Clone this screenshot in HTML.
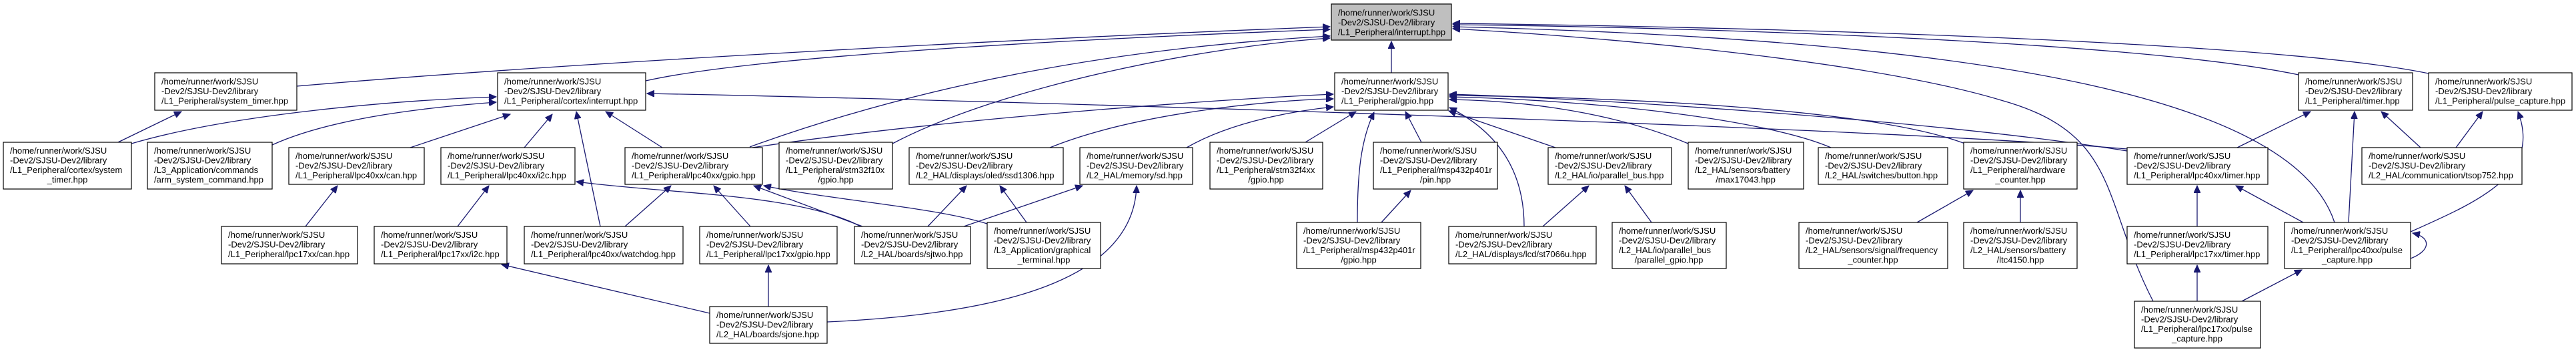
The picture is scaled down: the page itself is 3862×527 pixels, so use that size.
<!DOCTYPE html>
<html><head><meta charset="utf-8"><style>
html,body{margin:0;padding:0;background:#fff;}
svg{display:block;}
text{font-family:"Liberation Sans",Arial,sans-serif;font-size:13px;fill:#000;}
.b{fill:#fff;stroke:#000;stroke-width:1.2;}
.e{fill:none;stroke:#191970;stroke-width:1.3;marker-end:url(#a);}
</style></head><body>
<svg width="3862" height="527" viewBox="0 0 3862 527" xmlns="http://www.w3.org/2000/svg">
<defs><marker id="a" markerUnits="userSpaceOnUse" markerWidth="12" markerHeight="10" refX="11" refY="5" orient="auto"><path d="M0,0 L11,5 L0,10 z" fill="#191970" stroke="#191970"/></marker></defs>

<!-- edges -->
<path class="e" d="M445,129 C900,90 1600,55 1994,40"/>
<path class="e" d="M968,121 C1150,80 1700,55 1994,44"/>
<path class="e" d="M1124,220 C1400,120 1700,70 1994,54"/>
<path class="e" d="M1338,215 C1500,130 1800,70 1994,57"/>
<path class="e" d="M2086,109 L2086,62"/>
<path class="e" d="M3446,112 C3200,60 2500,40 2178,37"/>
<path class="e" d="M3641,110 C3400,60 2600,40 2178,35"/>
<path class="e" d="M3500,333 C3440,150 3000,60 2178,40"/>
<path class="e" d="M3228,451 C3150,300 3180,200 3000,150 C2800,90 2400,55 2178,43"/>

<path class="e" d="M177,213 L272,167"/>
<path class="e" d="M197,215 C350,170 600,150 744,145"/>
<path class="e" d="M408,217 C500,175 650,160 744,153"/>
<path class="e" d="M615,221 L765,171"/>
<path class="e" d="M786,221 L828,171"/>
<path class="e" d="M900,339 L864,167"/>
<path class="e" d="M993,221 L908,167"/>
<path class="e" d="M3189,223 C2800,190 1500,150 970,140"/>

<path class="e" d="M458,339 L506,278"/>
<path class="e" d="M686,339 L733,278"/>
<path class="e" d="M1290,339 C1200,290 1000,290 864,272"/>
<path class="e" d="M937,339 L1006,278"/>
<path class="e" d="M1125,339 L1070,278"/>
<path class="e" d="M1293,339 L1130,278"/>
<path class="e" d="M1480,335 C1400,310 1250,300 1145,278"/>
<path class="e" d="M1064,469 L752,396"/>
<path class="e" d="M1152,459 L1152,397"/>
<path class="e" d="M1240,482 C1500,470 1700,420 1704,278"/>

<path class="e" d="M1128,221 C1400,180 1800,150 1999,141"/>
<path class="e" d="M1574,221 C1700,170 1900,150 1999,148"/>
<path class="e" d="M1779,221 C1850,180 1950,165 1999,160"/>
<path class="e" d="M1957,213 L2033,167"/>
<path class="e" d="M2035,333 C2035,260 2040,210 2060,168"/>
<path class="e" d="M2131,213 L2107,167"/>
<path class="e" d="M2332,221 L2172,166"/>
<path class="e" d="M2285,339 C2285,260 2250,200 2173,161"/>
<path class="e" d="M2531,215 C2400,160 2250,150 2173,149"/>
<path class="e" d="M2745,221 C2650,180 2400,150 2173,145"/>
<path class="e" d="M2946,215 C2800,160 2400,145 2173,143"/>
<path class="e" d="M3189,226 C2900,180 2400,148 2173,141"/>

<path class="e" d="M3354,221 L3464,167"/>
<path class="e" d="M3521,333 L3530,167"/>
<path class="e" d="M3629,221 L3570,167"/>
<path class="e" d="M3682,221 L3722,167"/>
<path class="e" d="M3614,347 C3720,300 3810,260 3775,167"/>
<path class="e" d="M3614,387 C3645,375 3645,355 3617,349"/>
<path class="e" d="M3294,339 L3294,278"/>
<path class="e" d="M3453,333 L3352,278"/>
<path class="e" d="M2874,333 L2958,285"/>
<path class="e" d="M3029,333 L3029,285"/>
<path class="e" d="M3294,451 L3294,397"/>
<path class="e" d="M3361,451 L3451,404"/>
<path class="e" d="M2071,333 L2115,285"/>
<path class="e" d="M2313,339 L2382,278"/>
<path class="e" d="M2476,333 L2436,278"/>
<path class="e" d="M1391,339 L1449,278"/>
<path class="e" d="M1539,333 L1499,278"/>
<path class="e" d="M1445,339 L1623,278"/>

<!-- nodes -->
<g>
<rect x="1996" y="6" width="180" height="54" fill="#bfbfbf" stroke="#000" stroke-width="1.2"/>
<text x="2006" y="23.5">/home/runner/work/SJSU</text><text x="2006" y="38">-Dev2/SJSU-Dev2/library</text><text x="2006" y="52.5">/L1_Peripheral/interrupt.hpp</text>
</g>

<g>
<rect class="b" x="232" y="109" width="213" height="56"/><text x="242" y="126.5">/home/runner/work/SJSU</text><text x="242" y="141">-Dev2/SJSU-Dev2/library</text><text x="242" y="155.5">/L1_Peripheral/system_timer.hpp</text>
<rect class="b" x="746" y="109" width="222" height="56"/><text x="756" y="126.5">/home/runner/work/SJSU</text><text x="756" y="141">-Dev2/SJSU-Dev2/library</text><text x="756" y="155.5">/L1_Peripheral/cortex/interrupt.hpp</text>
<rect class="b" x="2001" y="109" width="170" height="56"/><text x="2011" y="126.5">/home/runner/work/SJSU</text><text x="2011" y="141">-Dev2/SJSU-Dev2/library</text><text x="2011" y="155.5">/L1_Peripheral/gpio.hpp</text>
<rect class="b" x="3446" y="109" width="171" height="56"/><text x="3456" y="126.5">/home/runner/work/SJSU</text><text x="3456" y="141">-Dev2/SJSU-Dev2/library</text><text x="3456" y="155.5">/L1_Peripheral/timer.hpp</text>
<rect class="b" x="3641" y="109" width="215" height="56"/><text x="3651" y="126.5">/home/runner/work/SJSU</text><text x="3651" y="141">-Dev2/SJSU-Dev2/library</text><text x="3651" y="155.5">/L1_Peripheral/pulse_capture.hpp</text>
</g>

<g>
<rect class="b" x="5" y="213" width="192" height="70"/><text x="15" y="230">/home/runner/work/SJSU</text><text x="15" y="244.5">-Dev2/SJSU-Dev2/library</text><text x="15" y="259">/L1_Peripheral/cortex/system</text><text x="101" y="273.5" text-anchor="middle">_timer.hpp</text>
<rect class="b" x="221" y="213" width="187" height="70"/><text x="231" y="230">/home/runner/work/SJSU</text><text x="231" y="244.5">-Dev2/SJSU-Dev2/library</text><text x="231" y="259">/L3_Application/commands</text><text x="231" y="273.5">/arm_system_command.hpp</text>
<rect class="b" x="433" y="221" width="203" height="55"/><text x="443" y="238">/home/runner/work/SJSU</text><text x="443" y="252.5">-Dev2/SJSU-Dev2/library</text><text x="443" y="267">/L1_Peripheral/lpc40xx/can.hpp</text>
<rect class="b" x="661" y="221" width="201" height="55"/><text x="671" y="238">/home/runner/work/SJSU</text><text x="671" y="252.5">-Dev2/SJSU-Dev2/library</text><text x="671" y="267">/L1_Peripheral/lpc40xx/i2c.hpp</text>
<rect class="b" x="937" y="221" width="206" height="55"/><text x="947" y="238">/home/runner/work/SJSU</text><text x="947" y="252.5">-Dev2/SJSU-Dev2/library</text><text x="947" y="267">/L1_Peripheral/lpc40xx/gpio.hpp</text>
<rect class="b" x="1168" y="213" width="170" height="70"/><text x="1178" y="230">/home/runner/work/SJSU</text><text x="1178" y="244.5">-Dev2/SJSU-Dev2/library</text><text x="1178" y="259">/L1_Peripheral/stm32f10x</text><text x="1253" y="273.5" text-anchor="middle">/gpio.hpp</text>
<rect class="b" x="1363" y="221" width="231" height="55"/><text x="1373" y="238">/home/runner/work/SJSU</text><text x="1373" y="252.5">-Dev2/SJSU-Dev2/library</text><text x="1373" y="267">/L2_HAL/displays/oled/ssd1306.hpp</text>
<rect class="b" x="1619" y="221" width="169" height="55"/><text x="1629" y="238">/home/runner/work/SJSU</text><text x="1629" y="252.5">-Dev2/SJSU-Dev2/library</text><text x="1629" y="267">/L2_HAL/memory/sd.hpp</text>
<rect class="b" x="1814" y="213" width="169" height="70"/><text x="1824" y="230">/home/runner/work/SJSU</text><text x="1824" y="244.5">-Dev2/SJSU-Dev2/library</text><text x="1824" y="259">/L1_Peripheral/stm32f4xx</text><text x="1898" y="273.5" text-anchor="middle">/gpio.hpp</text>
<rect class="b" x="2059" y="213" width="186" height="70"/><text x="2069" y="230">/home/runner/work/SJSU</text><text x="2069" y="244.5">-Dev2/SJSU-Dev2/library</text><text x="2069" y="259">/L1_Peripheral/msp432p401r</text><text x="2152" y="273.5" text-anchor="middle">/pin.hpp</text>
<rect class="b" x="2321" y="221" width="185" height="55"/><text x="2331" y="238">/home/runner/work/SJSU</text><text x="2331" y="252.5">-Dev2/SJSU-Dev2/library</text><text x="2331" y="267">/L2_HAL/io/parallel_bus.hpp</text>
<rect class="b" x="2531" y="213" width="173" height="70"/><text x="2541" y="230">/home/runner/work/SJSU</text><text x="2541" y="244.5">-Dev2/SJSU-Dev2/library</text><text x="2541" y="259">/L2_HAL/sensors/battery</text><text x="2617" y="273.5" text-anchor="middle">/max17043.hpp</text>
<rect class="b" x="2726" y="221" width="194" height="55"/><text x="2736" y="238">/home/runner/work/SJSU</text><text x="2736" y="252.5">-Dev2/SJSU-Dev2/library</text><text x="2736" y="267">/L2_HAL/switches/button.hpp</text>
<rect class="b" x="2944" y="213" width="170" height="70"/><text x="2954" y="230">/home/runner/work/SJSU</text><text x="2954" y="244.5">-Dev2/SJSU-Dev2/library</text><text x="2954" y="259">/L1_Peripheral/hardware</text><text x="3029" y="273.5" text-anchor="middle">_counter.hpp</text>
<rect class="b" x="3189" y="221" width="211" height="55"/><text x="3199" y="238">/home/runner/work/SJSU</text><text x="3199" y="252.5">-Dev2/SJSU-Dev2/library</text><text x="3199" y="267">/L1_Peripheral/lpc40xx/timer.hpp</text>
<rect class="b" x="3541" y="221" width="240" height="55"/><text x="3551" y="238">/home/runner/work/SJSU</text><text x="3551" y="252.5">-Dev2/SJSU-Dev2/library</text><text x="3551" y="267">/L2_HAL/communication/tsop752.hpp</text>
</g>

<g>
<rect class="b" x="332" y="339" width="204" height="56"/><text x="342" y="356">/home/runner/work/SJSU</text><text x="342" y="370.5">-Dev2/SJSU-Dev2/library</text><text x="342" y="385">/L1_Peripheral/lpc17xx/can.hpp</text>
<rect class="b" x="561" y="339" width="199" height="56"/><text x="571" y="356">/home/runner/work/SJSU</text><text x="571" y="370.5">-Dev2/SJSU-Dev2/library</text><text x="571" y="385">/L1_Peripheral/lpc17xx/i2c.hpp</text>
<rect class="b" x="786" y="339" width="238" height="56"/><text x="796" y="356">/home/runner/work/SJSU</text><text x="796" y="370.5">-Dev2/SJSU-Dev2/library</text><text x="796" y="385">/L1_Peripheral/lpc40xx/watchdog.hpp</text>
<rect class="b" x="1049" y="339" width="206" height="56"/><text x="1059" y="356">/home/runner/work/SJSU</text><text x="1059" y="370.5">-Dev2/SJSU-Dev2/library</text><text x="1059" y="385">/L1_Peripheral/lpc17xx/gpio.hpp</text>
<rect class="b" x="1281" y="339" width="174" height="56"/><text x="1291" y="356">/home/runner/work/SJSU</text><text x="1291" y="370.5">-Dev2/SJSU-Dev2/library</text><text x="1291" y="385">/L2_HAL/boards/sjtwo.hpp</text>
<rect class="b" x="1480" y="333" width="170" height="69"/><text x="1490" y="350">/home/runner/work/SJSU</text><text x="1490" y="364.5">-Dev2/SJSU-Dev2/library</text><text x="1490" y="379">/L3_Application/graphical</text><text x="1565" y="393.5" text-anchor="middle">_terminal.hpp</text>
<rect class="b" x="1944" y="333" width="186" height="69"/><text x="1954" y="350">/home/runner/work/SJSU</text><text x="1954" y="364.5">-Dev2/SJSU-Dev2/library</text><text x="1954" y="379">/L1_Peripheral/msp432p401r</text><text x="2037" y="393.5" text-anchor="middle">/gpio.hpp</text>
<rect class="b" x="2172" y="339" width="221" height="56"/><text x="2182" y="356">/home/runner/work/SJSU</text><text x="2182" y="370.5">-Dev2/SJSU-Dev2/library</text><text x="2182" y="385">/L2_HAL/displays/lcd/st7066u.hpp</text>
<rect class="b" x="2417" y="333" width="171" height="69"/><text x="2427" y="350">/home/runner/work/SJSU</text><text x="2427" y="364.5">-Dev2/SJSU-Dev2/library</text><text x="2427" y="379">/L2_HAL/io/parallel_bus</text><text x="2502" y="393.5" text-anchor="middle">/parallel_gpio.hpp</text>
<rect class="b" x="2697" y="333" width="223" height="69"/><text x="2707" y="350">/home/runner/work/SJSU</text><text x="2707" y="364.5">-Dev2/SJSU-Dev2/library</text><text x="2707" y="379">/L2_HAL/sensors/signal/frequency</text><text x="2808" y="393.5" text-anchor="middle">_counter.hpp</text>
<rect class="b" x="2944" y="333" width="170" height="69"/><text x="2954" y="350">/home/runner/work/SJSU</text><text x="2954" y="364.5">-Dev2/SJSU-Dev2/library</text><text x="2954" y="379">/L2_HAL/sensors/battery</text><text x="3029" y="393.5" text-anchor="middle">/ltc4150.hpp</text>
<rect class="b" x="3189" y="339" width="211" height="56"/><text x="3199" y="356">/home/runner/work/SJSU</text><text x="3199" y="370.5">-Dev2/SJSU-Dev2/library</text><text x="3199" y="385">/L1_Peripheral/lpc17xx/timer.hpp</text>
<rect class="b" x="3425" y="333" width="189" height="69"/><text x="3435" y="350">/home/runner/work/SJSU</text><text x="3435" y="364.5">-Dev2/SJSU-Dev2/library</text><text x="3435" y="379">/L1_Peripheral/lpc40xx/pulse</text><text x="3519" y="393.5" text-anchor="middle">_capture.hpp</text>
</g>

<g>
<rect class="b" x="1064" y="459" width="176" height="55"/><text x="1074" y="476">/home/runner/work/SJSU</text><text x="1074" y="490.5">-Dev2/SJSU-Dev2/library</text><text x="1074" y="505">/L2_HAL/boards/sjone.hpp</text>
<rect class="b" x="3200" y="451" width="189" height="70"/><text x="3210" y="468">/home/runner/work/SJSU</text><text x="3210" y="482.5">-Dev2/SJSU-Dev2/library</text><text x="3210" y="497">/L1_Peripheral/lpc17xx/pulse</text><text x="3294" y="511.5" text-anchor="middle">_capture.hpp</text>
</g>
</svg>
</body></html>
